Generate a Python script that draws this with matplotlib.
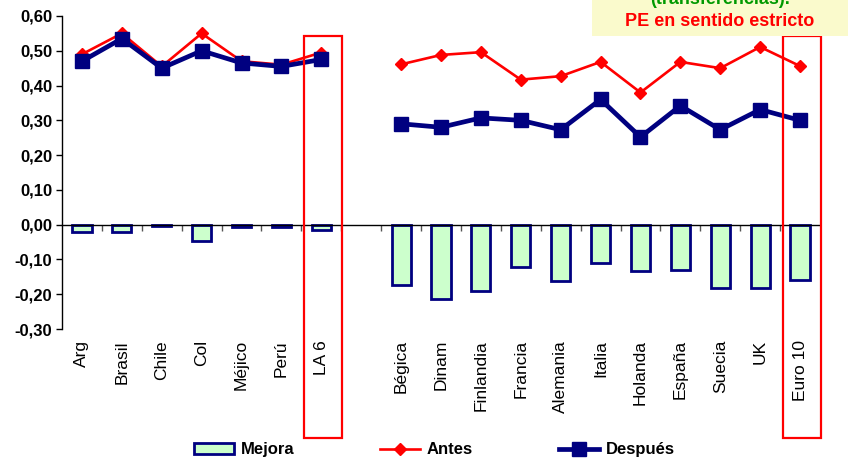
import numpy as np
import matplotlib
matplotlib.use("Agg")
from matplotlib import pyplot as plt
from matplotlib.patches import Rectangle, Patch
from matplotlib.lines import Line2D
from matplotlib import transforms

plt.rcParams['font.family'] = ['Liberation Sans', 'DejaVu Sans']

# --- data ---
latam = ['Arg', 'Brasil', 'Chile', 'Col', 'Méjico', 'Perú', 'LA 6']
euro = ['Bégica', 'Dinam', 'Finlandia', 'Francia', 'Alemania', 'Italia',
        'Holanda', 'España', 'Suecia', 'UK', 'Euro 10']

antes_la = [0.49, 0.55, 0.455, 0.55, 0.47, 0.46, 0.495]
despues_la = [0.47, 0.535, 0.45, 0.50, 0.465, 0.455, 0.475]
mejora_la = [-0.02, -0.02, -0.004, -0.047, -0.006, -0.006, -0.016]

antes_eu = [0.461, 0.488, 0.496, 0.417, 0.427, 0.468, 0.380, 0.468, 0.450, 0.511, 0.456]
despues_eu = [0.290, 0.280, 0.307, 0.300, 0.273, 0.360, 0.252, 0.342, 0.273, 0.331, 0.300]
mejora_eu = [-0.173, -0.215, -0.190, -0.122, -0.162, -0.111, -0.132, -0.130, -0.182, -0.182, -0.158]

yticks = [-0.3, -0.2, -0.1, 0.0, 0.1, 0.2, 0.3, 0.4, 0.5, 0.6]

NAVY = '#000080'
RED = '#FF0000'
GREEN_FILL = '#CCFFCC'

x_la = np.arange(len(latam))
x_eu = np.arange(len(euro)) + len(latam) + 1   # one empty slot between groups
n_slots = len(latam) + 1 + len(euro)

fig = plt.figure(figsize=(8.48, 4.62), dpi=100)
ax = fig.add_axes([62/848, 1-329/462, (820-62)/848, (329-16)/462])

# bars (Mejora)
for xs, vals in ((x_la, mejora_la), (x_eu, mejora_eu)):
    ax.bar(xs, vals, width=0.48, color=GREEN_FILL, edgecolor=NAVY,
           linewidth=2.0, zorder=2)

# lines
for xs, vals in ((x_la, antes_la), (x_eu, antes_eu)):
    ax.plot(xs, vals, color=RED, lw=1.9, marker='D', ms=6, mec=RED, zorder=3)
for xs, vals in ((x_la, despues_la), (x_eu, despues_eu)):
    ax.plot(xs, vals, color=NAVY, lw=3.4, marker='s', ms=9.5, mec=NAVY, zorder=4)

ax.set_xlim(-0.5, n_slots - 0.5)
ax.set_ylim(-0.3, 0.6)

for s in ('top', 'right'):
    ax.spines[s].set_visible(False)
ax.spines['bottom'].set_position(('data', 0))
ax.spines['bottom'].set_linewidth(1.0)
ax.spines['left'].set_linewidth(1.0)

ax.set_yticks(yticks)
ax.set_yticklabels([('%.2f' % v).replace('.', ',') for v in yticks],
                   fontsize=12, fontweight='bold')
ax.tick_params(axis='y', direction='out', length=4, width=1, pad=3)

ax.set_xticks([])
ax.set_xticks(np.arange(n_slots - 1) + 0.5, minor=True)
ax.tick_params(axis='x', which='minor', direction='out', length=4, width=1,
               color='#555555')

# category labels at the bottom of the axes
sec = ax.secondary_xaxis(0)
sec.set_xticks(np.concatenate([x_la, x_eu]), latam + euro, rotation=90,
               fontsize=12.5)
sec.tick_params(length=0, pad=8)
sec.spines['bottom'].set_visible(False)

# red highlight boxes around the aggregate columns
trans = transforms.blended_transform_factory(ax.transData, fig.transFigure)
y0, y1 = 1 - 438/462, 1 - 36/462
for xc in (x_la[-1], x_eu[-1]):
    ax.add_patch(Rectangle((xc - 0.43, y0), 0.96, y1 - y0, transform=trans,
                           fill=False, edgecolor=RED, lw=1.6, clip_on=False,
                           zorder=5))

# yellow note box, top right
fig.patches.append(Rectangle((592/848, 1 - 36/462), 1 - 592/848, 36/462,
                             transform=fig.transFigure, facecolor='#FAFACC',
                             edgecolor='none', zorder=0))
fig.text(720/848, 1 - 4/462, '(transferencias).', color='#009900',
         fontsize=13, fontweight='bold', ha='center', va='baseline')
fig.text(720/848, 1 - 22/462, 'PE en sentido estricto', color=RED,
         fontsize=13, fontweight='bold', ha='center', va='center')

handles = [Patch(facecolor=GREEN_FILL, edgecolor=NAVY, lw=2.0),
           Line2D([], [], color=RED, lw=1.9, marker='D', ms=6),
           Line2D([], [], color=NAVY, lw=3.4, marker='s', ms=9.5)]
fig.legend(handles, ['Mejora', 'Antes', 'Después'], loc='center',
           bbox_to_anchor=(0.512, 0.026), ncol=3, frameon=False,
           prop={'weight': 'bold', 'size': 12}, handlelength=2.4,
           handletextpad=0.4, columnspacing=5.15, numpoints=1)

fig.savefig('out.png', dpi=100)
